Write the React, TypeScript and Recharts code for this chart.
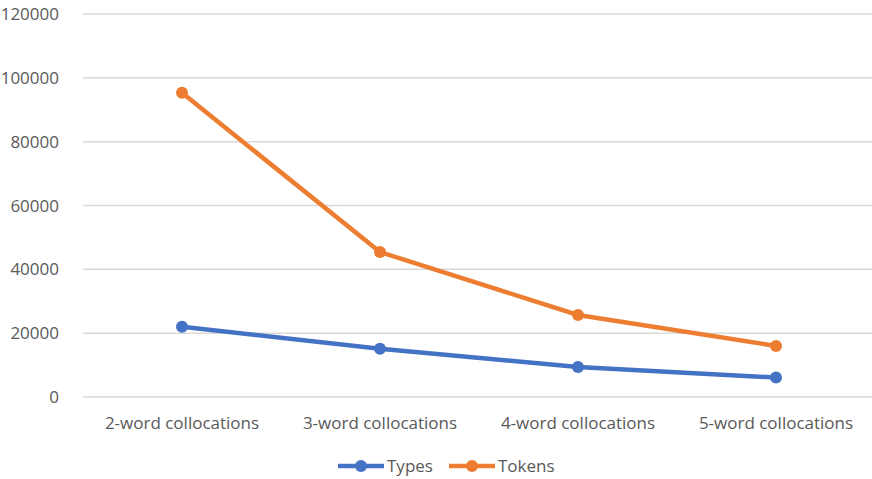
import { LineChart, Line, XAxis, YAxis, CartesianGrid } from "recharts";

const categories = ["2-word collocations", "3-word collocations", "4-word collocations", "5-word collocations"];
const types = [22000, 15100, 9400, 6100];
const tokens = [95300, 45400, 25700, 16000];
const yTicks = [0, 20000, 40000, 60000, 80000, 100000, 120000];

const series = [
  { key: "types", name: "Types", color: "#4472C4" },
  { key: "tokens", name: "Tokens", color: "#ED7D31" },
];

const data = categories.map((c, i) => ({ category: c, types: types[i], tokens: tokens[i] }));

const font = "'Open Sans', sans-serif";

function LegendBox() {
  return (
    <div style={{ position: "absolute", left: 338, top: 455, display: "flex", gap: 16, fontFamily: font, fontSize: 17, color: "#595959", lineHeight: "22px" }}>
      {series.map((s) => (
        <div key={s.key} style={{ display: "flex", alignItems: "center", gap: 3 }}>
          <svg width={46} height={14}>
            <line x1={0} y1={7} x2={46} y2={7} stroke={s.color} strokeWidth={4.5} />
            <circle cx={23} cy={7} r={6} fill={s.color} />
          </svg>
          <span>{s.name}</span>
        </div>
      ))}
    </div>
  );
}

export default function App() {
  return (
    <div style={{ position: "fixed", left: 0, top: 0, width: 872, height: 479, overflow: "hidden", background: "#fff" }}>
      <LineChart width={875} height={479} data={data} margin={{ top: 14, right: 0, bottom: 52, left: 0 }}>
        <CartesianGrid vertical={false} stroke="#d9d9d9" strokeWidth={1.5} />
        <XAxis
          dataKey="category"
          height={30}
          axisLine={false}
          tickLine={false}
          padding={{ left: 99, right: 99 }}
          tick={{ fontFamily: font, fontSize: 17, fill: "#595959" }}
          tickMargin={14}
          interval={0}
        />
        <YAxis
          width={83}
          domain={[0, 120000]}
          ticks={yTicks}
          axisLine={false}
          tickLine={false}
          tick={{ fontFamily: font, fontSize: 17, fill: "#595959" }}
          tickMargin={18}
        />
        {series.map((s) => (
          <Line
            key={s.key}
            type="linear"
            dataKey={s.key}
            name={s.name}
            stroke={s.color}
            strokeWidth={4.5}
            dot={{ r: 6, fill: s.color, stroke: s.color, strokeWidth: 0 }}
            isAnimationActive={false}
          />
        ))}
      </LineChart>
      <LegendBox />
    </div>
  );
}
